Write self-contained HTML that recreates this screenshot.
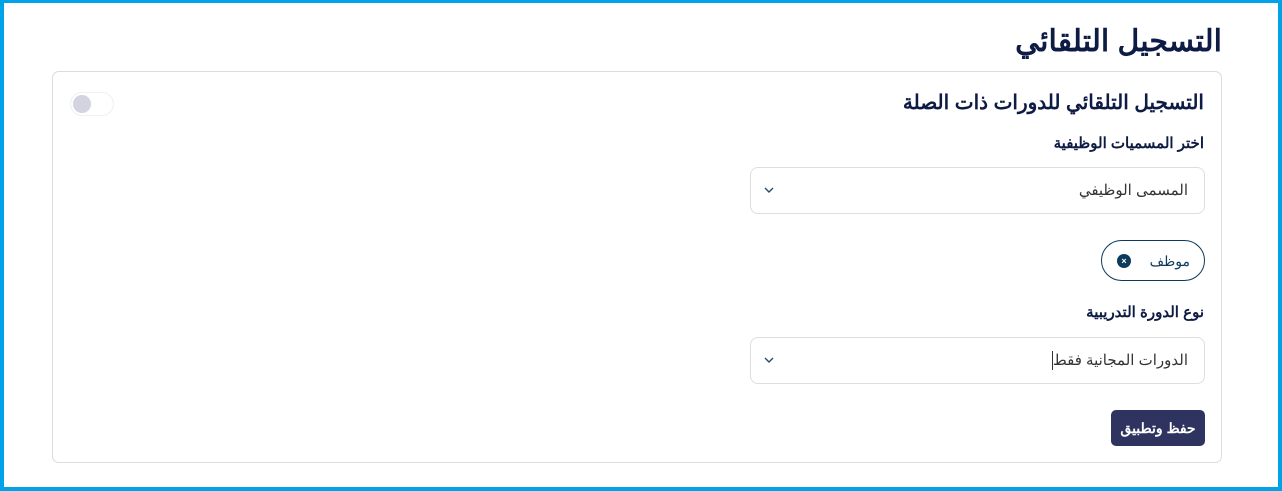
<!DOCTYPE html>
<html><head><meta charset="utf-8"><style>
*{box-sizing:border-box;margin:0;padding:0}
html,body{width:1282px;height:491px;overflow:hidden;background:#fff}
body{position:relative;font-family:"Liberation Sans","Noto Sans CJK SC",sans-serif;color:#0d1b45}
.frame{position:absolute;left:0;top:0;width:1282px;height:491px;border:solid #00a3e8;border-width:3px 4px 4px 4px}
.a{position:absolute;direction:rtl;white-space:nowrap}
.card{position:absolute;left:52px;top:71px;width:1170px;height:392px;border:1px solid #dcdcdc;border-radius:7px}
.sel{position:absolute;left:750px;width:455px;height:47px;border:1px solid #dedede;border-radius:8px}
.sel span{position:absolute;right:16px;top:13px;font-size:15px;color:#333;direction:rtl}
.sel svg{position:absolute;left:13px;top:19px}
</style></head><body>
<div class="frame"></div>
<div class="a" style="right:60px;top:22px;font-size:30px;font-weight:bold;line-height:40px">التسجيل التلقائي</div>
<div class="card"></div>
<div style="position:absolute;left:70px;top:92px;width:44px;height:24px;border:1px solid #f0f0f3;border-radius:12px"></div>
<div style="position:absolute;left:73px;top:95px;width:18px;height:18px;border-radius:50%;background:#d4d4e0"></div>
<div class="a" style="right:78px;top:90px;font-size:20px;font-weight:bold;line-height:26px">التسجيل التلقائي للدورات ذات الصلة</div>
<div class="a" style="right:78px;top:134px;font-size:15px;font-weight:bold;line-height:20px">اختر المسميات الوظيفية</div>
<div class="sel" style="top:167px"><span>المسمى الوظيفي</span><svg width="10" height="7"><path d="M1 1l4 4 4-4" stroke="#2a4a6a" stroke-width="1.4" fill="none"/></svg></div>
<div style="position:absolute;left:1101px;top:240px;width:104px;height:41px;border:1.5px solid #0b3a5c;border-radius:21px"></div>
<div class="a" style="right:92px;top:251px;font-size:14px;color:#0b3a5c;line-height:20px">موظف</div>
<div style="position:absolute;left:1117px;top:254px;width:14px;height:14px;border-radius:50%;background:#0b3a5c;color:#fff;font-size:9px;font-weight:bold;text-align:center;line-height:14px">×</div>
<div class="a" style="right:78px;top:303px;font-size:15px;font-weight:bold;line-height:20px">نوع الدورة التدريبية</div>
<div class="sel" style="top:337px"><span>الدورات المجانية فقط</span><svg width="10" height="7"><path d="M1 1l4 4 4-4" stroke="#2a4a6a" stroke-width="1.4" fill="none"/></svg></div>
<div style="position:absolute;left:1052px;top:351px;width:1px;height:19px;background:#333"></div>
<div style="position:absolute;left:1111px;top:410px;width:94px;height:36px;background:#2e3360;border-radius:5px;color:#fff;font-size:14px;font-weight:bold;text-align:center;line-height:36px;direction:rtl">حفظ وتطبيق</div>
</body></html>
